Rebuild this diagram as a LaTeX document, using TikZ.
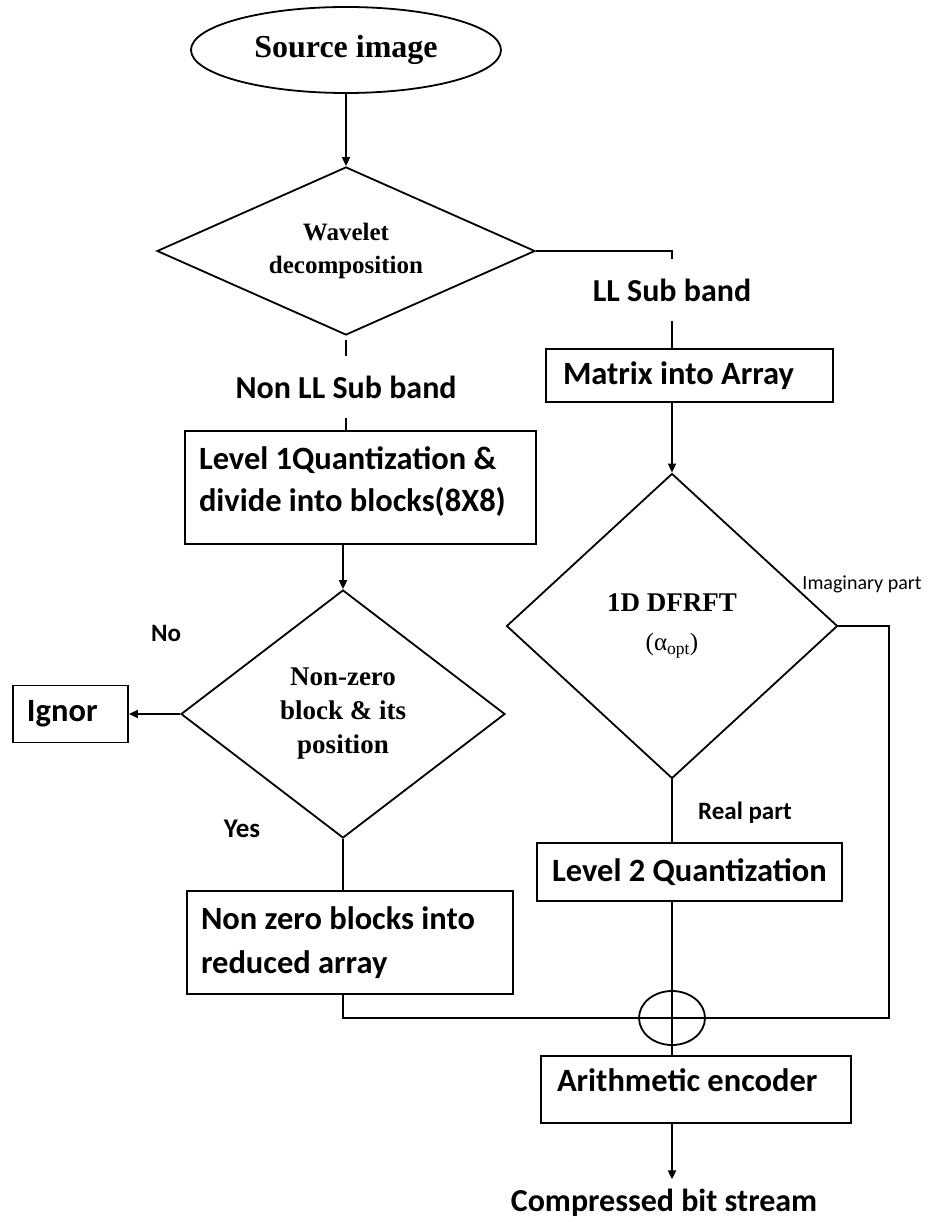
\documentclass[tikz,border=0pt]{standalone}
\usepackage{fontspec}
\setmainfont{Liberation Serif}
\newfontfamily\carfont{Carlito}
\usetikzlibrary{shapes.geometric,arrows.meta}

\begin{document}
\begin{tikzpicture}[x=1pt,y=-1pt,
  line width=1.8pt,
  arr/.style={-{Triangle[length=9pt,width=8pt]}},
  box/.style={draw, rectangle, inner sep=0pt,
    font=\carfont\bfseries\fontsize{32.5}{42}\selectfont},
  dia/.style={draw, diamond, inner sep=0pt, align=center},
  lbl/.style={inner sep=0pt, font=\carfont\bfseries\fontsize{32}{38}\selectfont},
  small/.style={inner sep=0pt, font=\carfont\bfseries\fontsize{25}{30}\selectfont},
]
\useasboundingbox (0,0) rectangle (927,1222);

% start
\node[draw, ellipse, minimum width=310pt, minimum height=86pt, inner sep=0pt,
      font=\bfseries\fontsize{32}{38}\selectfont] (src) at (346,50) {Source image};

% wavelet split
\node[dia, aspect=2.25, minimum width=378pt, minimum height=168pt,
      font=\bfseries\fontsize{25}{33}\selectfont] (wav) at (346,251)
      {Wavelet\\decomposition};
\draw[arr] (src.south) -- (wav.north);

% LL sub band branch
\node[lbl, minimum height=60pt] (llsb) at (672,290) {LL Sub band};
\draw (wav.east) -| (llsb.north);
\node[box, minimum width=287pt, minimum height=53pt, text width=253pt, align=flush left]
      (mat) at (689.5,375.5) {Matrix into Array};
\draw (llsb.south) -- (llsb.south |- mat.north);

\node[dia, aspect=1.09, minimum width=331pt, minimum height=305pt,
      font=\bfseries\fontsize{27}{39}\selectfont] (df) at (672,626)
      {1D DFRFT\\{\mdseries\fontsize{25}{30}\selectfont(α\textsubscript{opt})}};
\draw[arr] (mat.south -| df.north) -- (df.north);

\node[inner sep=0pt, font=\carfont\fontsize{20}{24}\selectfont] (imag) at (862,584) {Imaginary part};
\node[inner sep=0pt, font=\carfont\bfseries\fontsize{25}{28}\selectfont] (real) at (745,813) {Real part};

\node[box, minimum width=305pt, minimum height=58pt] (l2) at (689.5,872) {Level 2 Quantization};
\draw (df.south) -- (df.south |- l2.north);

% non-LL branch
\node[lbl, minimum height=60pt] (nllsb) at (346,387) {Non LL Sub band};
\draw[shorten <=4pt] (wav.south) -- (nllsb.north);
\node[box, minimum width=351pt, minimum height=113pt, text width=323pt, align=flush left]
      (l1) at (360.5,487.5) {Level 1Quantization \&\\divide into blocks(8X8)\rule[-16pt]{0pt}{0pt}};
\draw (nllsb.south) -- (nllsb.south |- l1.north);

\node[dia, aspect=1.3, minimum width=324pt, minimum height=248pt,
      font=\bfseries\fontsize{27}{34}\selectfont] (nz) at (343,714) {Non-zero\\block \& its\\position};
\draw[arr] (l1.south -| nz.north) -- (nz.north);

\node[box, minimum width=115pt, minimum height=57pt, text width=87pt, align=flush left]
      (ign) at (70.5,714) {Ignor};
\draw[arr] (nz.west) -- (ign.east);
\node[small] (no) at (166,633) {No};
\node[small, font=\carfont\bfseries\fontsize{27}{30}\selectfont] (yes) at (242,829) {Yes};

\node[box, minimum width=326pt, minimum height=103pt, text width=298pt, align=flush left,
      font=\carfont\bfseries\fontsize{32.5}{44}\selectfont]
      (nzb) at (350,942.5) {Non zero blocks into\\reduced array};
\draw (nz.south) -- (nz.south |- nzb.north);

% merging junction
\node[draw, ellipse, minimum width=66pt, minimum height=54pt, inner sep=0pt] (sum) at (672,1018) {};
\draw (nzb.south -| nz.south) |- (sum.center);
\coordinate (imc) at (889,626);
\draw (df.east) -- (imc) |- (sum.center);
\draw (l2.south -| sum.center) -- (sum.center);

% encoder and output
\node[box, minimum width=310pt, text width=278pt, align=flush left, text height=35pt, text depth=32pt]
      (ae) at (696,1089.5) {Arithmetic encoder};
\draw (sum.center) -- (sum.center |- ae.north);
\node[lbl, inner ysep=9pt] (cbs) at (664,1203) {Compressed bit stream};
\draw[arr] (sum.center |- ae.south) -- (sum.center |- cbs.north);
\end{tikzpicture}
\end{document}
